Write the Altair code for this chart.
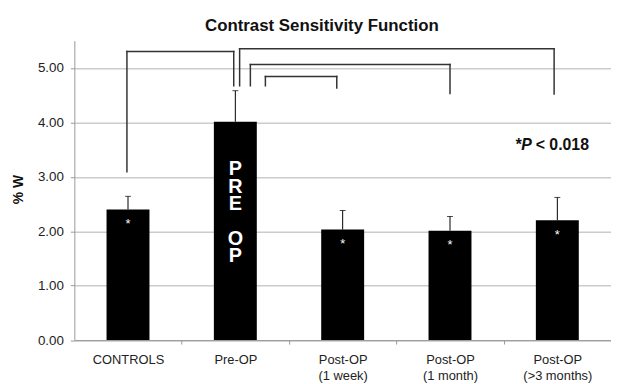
import altair as alt
import pandas as pd

# ---- data ----
categories = ["CONTROLS", "Pre-OP", "Post-OP\n(1 week)", "Post-OP\n(1 month)", "Post-OP\n(>3 months)"]
means = [2.40, 4.01, 2.03, 2.01, 2.20]
err_top = [2.64, 4.58, 2.38, 2.27, 2.62]
asterisks = ["*", "", "*", "*", "*"]
y_ticks = [0, 1, 2, 3, 4, 5]
inbar_words = ["PRE", "OP"]

# significance brackets (x in category units: band i spans i..i+1)
br_left_x = [0.49, 1.54, 1.64, 1.78]
br_right_x = [1.485, 4.47, 3.50, 2.445]
br_top = [5.30, 5.35, 5.06, 4.84]
br_left_bottom = [3.09, 4.67, 4.67, 4.67]
br_right_bottom = [4.67, 4.52, 4.53, 4.63]

p_star = "*P"
p_rest = "< 0.018"
p_x = 4.28
p_y = 3.58

FONT = "Liberation Sans"

df = pd.DataFrame({"cat": categories, "mean": means, "top": err_top, "star": asterisks})

segs = []
for l, r, t, lb, rb in zip(br_left_x, br_right_x, br_top, br_left_bottom, br_right_bottom):
    segs.append({"x": l, "x2": l, "y": lb, "y2": t})
    segs.append({"x": l, "x2": r, "y": t, "y2": t})
    segs.append({"x": r, "x2": r, "y": rb, "y2": t})
seg_df = pd.DataFrame(segs)
p_df = pd.DataFrame({"x": [p_x], "y": [p_y]})

yscale = alt.Scale(domain=[0, 5.5], nice=False)
xscale = alt.Scale(paddingInner=0.6, paddingOuter=0.3)
STEP = 542 / 5

x_axis = alt.Axis(
    title=None, labelExpr="split(datum.label, '\\n')", labelFontSize=13, labelFont=FONT,
    labelColor="#222222", labelLineHeight=16, labelPadding=10, labelAngle=0,
    labelBaseline="top", tickSize=4, tickColor="#999999", tickOffset=STEP / 2,
    labelOffset=-STEP / 2, domainColor="#999999", grid=False,
)
y_axis = alt.Axis(
    values=y_ticks, format=".2f", title="% W", titleFontSize=14, titleFont=FONT,
    titleFontWeight="bold", titleColor="#111111", titleAngle=-90, titleX=-56, titleY=150,
    titleAlign="center", titleBaseline="middle", labelFontSize=13.5, labelFont=FONT,
    labelColor="#222222", labelPadding=7, tickSize=4, tickColor="#999999",
    domainColor="#999999", gridColor="#cccccc", gridWidth=1.5, grid=True,
)

X = alt.X("cat:N", sort=categories, scale=xscale, axis=x_axis)

def Y(field):
    return alt.Y(field, scale=yscale, axis=y_axis)

bars = alt.Chart(df).mark_bar(color="black").encode(x=X, y=Y("mean:Q"))
err = alt.Chart(df).mark_rule(color="black", strokeWidth=1).encode(
    x=X, y=Y("mean:Q"), y2="top:Q"
)
cap = alt.Chart(df).mark_tick(color="black", thickness=1, size=6).encode(x=X, y=Y("top:Q"))
stars = alt.Chart(df).mark_text(color="white", fontSize=13, font=FONT, baseline="top", dy=9).encode(
    x=X, y=Y("mean:Q"), text="star:N"
)

LH = 17.5
word_layers = []
dy = 38
for w in inbar_words:
    word_layers.append(
        alt.Chart(df).transform_filter(alt.datum.cat == "Pre-OP").mark_text(
            text=list(w), color="white", fontSize=20, font=FONT, fontWeight="bold",
            baseline="top", lineHeight=LH, dy=dy,
        ).encode(x=X, y=Y("mean:Q"))
    )
    dy += (len(w) + 1) * LH

inner = alt.layer(bars, err, cap, stars, *word_layers)

qx = alt.Scale(domain=[0, 5], nice=False, zero=False)
QX = alt.X("x:Q", scale=qx, axis=None)
brackets = alt.Chart(seg_df).mark_rule(color="#333333", strokeWidth=1.5, strokeCap="square").encode(
    x=QX, x2="x2:Q", y=Y("y:Q"), y2="y2:Q",
)
ptext1 = alt.Chart(p_df).mark_text(
    text=p_star, fontSize=16, font=FONT, fontWeight="bold", fontStyle="italic",
    align="right", baseline="middle", color="#111111", dx=-2,
).encode(x=QX, y=Y("y:Q"))
ptext2 = alt.Chart(p_df).mark_text(
    text=p_rest, fontSize=16, font=FONT, fontWeight="bold",
    align="left", baseline="middle", color="#111111", dx=2,
).encode(x=QX, y=Y("y:Q"))

outer = alt.layer(brackets, ptext1, ptext2)

chart = alt.layer(inner, outer).resolve_scale(x="independent").properties(
    width=542, height=302.5,
    title=alt.TitleParams(
        "Contrast Sensitivity Function", fontSize=17, font=FONT, fontWeight="bold",
        color="#111111", anchor="middle", frame="group", dx=-21, dy=17, offset=10,
        baseline="alphabetic",
    ),
    autosize=alt.AutoSizeParams(type="none"),
    padding={"left": 67, "top": 31, "right": 0, "bottom": 50},
).configure_view(stroke=None)

chart.save("out.html", embed_options={"renderer": "svg", "actions": False})
